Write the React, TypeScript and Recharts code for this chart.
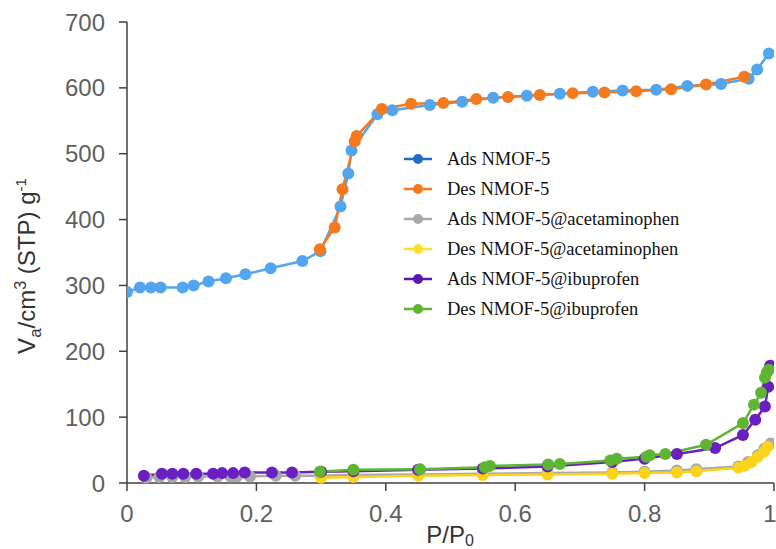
import React from "react";
import { LineChart, Line, XAxis, YAxis, Legend } from "recharts";

// ---- data (P/P0 vs adsorbed volume) ----
const adsNmofX = [0.0, 0.02, 0.037, 0.052, 0.086, 0.103, 0.126, 0.153, 0.183, 0.222, 0.271, 0.299, 0.33, 0.342, 0.347, 0.387, 0.41, 0.468, 0.518, 0.566, 0.618, 0.669, 0.72, 0.766, 0.818, 0.866, 0.918, 0.961, 0.974, 0.992];
const adsNmofY = [290, 297, 297, 297, 297, 300, 306, 311, 317, 326, 337, 352, 420, 470, 505, 560, 566, 574, 579, 585, 588, 591, 594, 596, 597, 603, 606, 614, 628, 652];

const desNmofX = [0.298, 0.321, 0.333, 0.352, 0.355, 0.394, 0.439, 0.489, 0.54, 0.589, 0.638, 0.689, 0.738, 0.787, 0.841, 0.895, 0.954];
const desNmofY = [355, 388, 446, 519, 527, 568, 576, 577, 583, 586, 589, 592, 593, 595, 598, 605, 617];

const adsAcetX = [0.03, 0.05, 0.07, 0.09, 0.11, 0.14, 0.16, 0.17, 0.19, 0.23, 0.26, 0.3, 0.35, 0.45, 0.55, 0.65, 0.75, 0.8, 0.85, 0.88, 0.945, 0.96, 0.975, 0.985, 0.995];
const adsAcetY = [8, 9, 9, 9, 10, 10, 10, 10, 10, 11, 11, 11, 12, 13, 14, 15, 16, 17, 19, 21, 25, 32, 42, 52, 60];

const desAcetX = [0.3, 0.35, 0.45, 0.55, 0.65, 0.75, 0.8, 0.85, 0.88, 0.945, 0.955, 0.965, 0.975, 0.985, 0.99];
const desAcetY = [8, 9, 11, 12, 13, 14, 15, 16, 18, 23, 26, 32, 40, 48, 55];

const adsIbuX = [0.026, 0.054, 0.07, 0.087, 0.107, 0.133, 0.147, 0.164, 0.182, 0.224, 0.255, 0.3, 0.35, 0.45, 0.55, 0.65, 0.75, 0.8, 0.85, 0.909, 0.952, 0.971, 0.986, 0.991, 0.994];
const adsIbuY = [11, 14, 14, 14, 14, 14, 15, 15, 16, 16, 16, 17, 18, 20, 22, 25, 32, 37, 44, 53, 73, 96, 116, 146, 178];

const desIbuX = [0.298, 0.35, 0.453, 0.553, 0.561, 0.651, 0.669, 0.747, 0.757, 0.803, 0.808, 0.832, 0.895, 0.952, 0.969, 0.98, 0.986, 0.989, 0.992];
const desIbuY = [17, 20, 21, 24, 26, 28, 29, 34, 37, 40, 42, 44, 58, 91, 119, 137, 160, 168, 172];

const seriesNames = [
  "Ads NMOF-5",
  "Des NMOF-5",
  "Ads NMOF-5@acetaminophen",
  "Des NMOF-5@acetaminophen",
  "Ads NMOF-5@ibuprofen",
  "Des NMOF-5@ibuprofen",
];
const seriesColors = ["#52a5ee", "#f47a1f", "#a8a8a8", "#fbd31c", "#6a1fc0", "#5db532"];
const legendColors = ["#1f6fc4", "#f47a1f", "#a8a8a8", "#fbe030", "#5a18b0", "#5db532"];

const xTicks = [0, 0.2, 0.4, 0.6, 0.8, 1];
const yTicks = [0, 100, 200, 300, 400, 500, 600, 700];

const zip = (xs: number[], ys: number[]) => xs.map((x, i) => ({ x, y: ys[i] }));

const seriesData = [
  zip(adsNmofX, adsNmofY),
  zip(desNmofX, desNmofY),
  zip(adsAcetX, adsAcetY),
  zip(desAcetX, desAcetY),
  zip(adsIbuX, adsIbuY),
  zip(desIbuX, desIbuY),
];

const tickFont = { fontFamily: "Liberation Sans, Arial, sans-serif", fontSize: 24, fill: "#5f5f5f" };

const LegendContent = () => (
  <div style={{ fontFamily: "Liberation Serif, 'Times New Roman', serif", fontSize: 18.5, color: "#111" }}>
    {seriesNames.map((n, i) => (
      <div key={n} style={{ display: "flex", alignItems: "center", height: 30 }}>
        <svg width={30} height={14} style={{ marginRight: 14 }}>
          <line x1={1} y1={7} x2={29} y2={7} stroke={legendColors[i]} strokeWidth={2.5} />
          <circle cx={15} cy={7} r={5} fill={legendColors[i]} />
        </svg>
        <span>{n}</span>
      </div>
    ))}
  </div>
);

const YLabel = () => (
  <text
    transform="translate(35, 266) rotate(-90)"
    textAnchor="middle"
    fontFamily="Liberation Sans, Arial, sans-serif"
    fontSize={24}
    fill="#333"
  >
    V
    <tspan fontSize={17} dy={6}>a</tspan>
    <tspan dy={-6}>/cm</tspan>
    <tspan fontSize={16} dy={-9}>3</tspan>
    <tspan dy={9}> (STP) g</tspan>
    <tspan fontSize={15} dy={-9}>-1</tspan>
  </text>
);

const XLabel = () => (
  <text
    x={450}
    y={543}
    textAnchor="middle"
    fontFamily="Liberation Sans, Arial, sans-serif"
    fontSize={24}
    fill="#333"
  >
    P/P
    <tspan fontSize={16} dy={3}>0</tspan>
  </text>
);

export default function App() {
  return (
    <div style={{ position: "absolute", left: 0, top: 0, width: 776, height: 549, background: "#fff" }}>
      <LineChart width={776} height={549} margin={{ top: 22, right: 2, bottom: 26, left: 67 }}>
        <XAxis
          dataKey="x"
          type="number"
          domain={[0, 1]}
          ticks={xTicks}
          tickFormatter={(v: number) => String(v)}
          axisLine={{ stroke: "#404040", strokeWidth: 1.5 }}
          tickLine={{ stroke: "#404040", strokeWidth: 1.5 }}
          tickSize={8}
          tickMargin={14}
          tick={tickFont}
          height={40}
          label={{ content: () => <XLabel /> }}
          allowDataOverflow
        />
        <YAxis
          dataKey="y"
          type="number"
          domain={[0, 700]}
          ticks={yTicks}
          axisLine={{ stroke: "#404040", strokeWidth: 1.5 }}
          tickLine={{ stroke: "#404040", strokeWidth: 1.5 }}
          tickSize={8}
          tickMargin={14}
          tick={tickFont}
          width={60}
          label={{ content: () => <YLabel /> }}
        />
        <Legend
          layout="vertical"
          align="center"
          verticalAlign="middle"
          content={<LegendContent />}
          wrapperStyle={{ position: "absolute", left: 403, top: 144, width: 330 }}
        />
        {seriesData.map((d, i) => (
          <Line
            key={seriesNames[i]}
            name={seriesNames[i]}
            data={d}
            dataKey="y"
            type="linear"
            stroke={seriesColors[i]}
            strokeWidth={2.5}
            dot={{ r: 6, fill: seriesColors[i], stroke: seriesColors[i], strokeWidth: 0 }}
            activeDot={false}
            isAnimationActive={false}
          />
        ))}
      </LineChart>
    </div>
  );
}
